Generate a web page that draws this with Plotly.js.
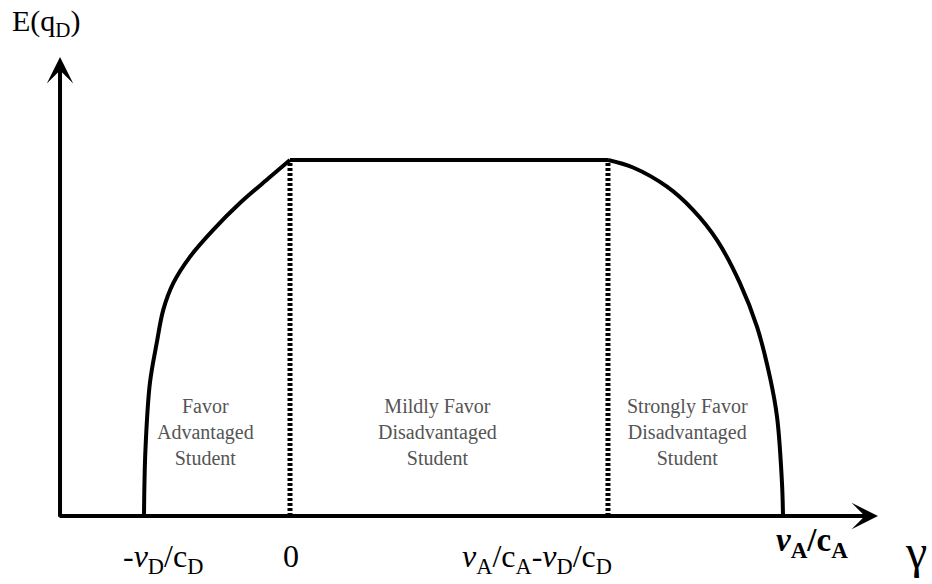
<!DOCTYPE html>
<html>
<head>
<meta charset="utf-8">
<script src="https://cdn.plot.ly/plotly-3.0.1.min.js"></script>
<style>
  html, body { margin: 0; padding: 0; background: #fff; }
  #graph { width: 932px; height: 584px; }
</style>
</head>
<body>
<div id="graph"></div>
<script>
// gamma on x (1 unit = -vD/cD distance), E(qD) on y (1 = plateau)

// rising branch, from -vD/cD up to 0
var leftX = [-1.007, -0.997, -0.966, -0.919, -0.874, -0.805, -0.690, -0.531, -0.345, -0.138, 0];
var leftY = [0, 0.185, 0.374, 0.486, 0.579, 0.654, 0.728, 0.803, 0.879, 0.952, 1.0];

// plateau between 0 and vA/cA - vD/cD
var flatX = [0, 2.193];
var flatY = [1.0, 1.0];

// falling branch, down to vA/cA
var rightX = [2.193, 2.366, 2.600, 2.779, 2.945, 3.103, 3.221, 3.310, 3.359, 3.393, 3.400];
var rightY = [1.0, 0.979, 0.925, 0.860, 0.775, 0.654, 0.531, 0.390, 0.278, 0.093, 0];

// the two dotted region boundaries
var boundX = [0, 2.193];
var boundTop = 1.0;

// tick labels under the gamma axis
var tickText = [
    '-<i>v</i><sub>D</sub>/c<sub>D</sub>',
    '0',
    '<i>v</i><sub>A</sub>/c<sub>A</sub>-<i>v</i><sub>D</sub>/c<sub>D</sub>',
    '<b><i>v</i><sub>A</sub>/c<sub>A</sub></b>'
];
var tickX = [-0.876, 0.01, 1.703, 3.60];

var regionText = [
    'Favor<br>Advantaged<br>Student',
    'Mildly Favor<br>Disadvantaged<br>Student',
    'Strongly Favor<br>Disadvantaged<br>Student'
];
var regionX = [-0.58, 1.02, 2.74];

function drawGraph() {
    var black = '#000';
    var serif = 'Liberation Serif, Times New Roman, serif';

    var curve = { width: 4, color: black, shape: 'spline', smoothing: 1 };

    var data = [
        { x: leftX, y: leftY, type: 'scatter', mode: 'lines', line: curve, hoverinfo: 'skip' },
        { x: flatX, y: flatY, type: 'scatter', mode: 'lines', line: { width: 4, color: black }, hoverinfo: 'skip' },
        { x: rightX, y: rightY, type: 'scatter', mode: 'lines', line: curve, hoverinfo: 'skip' }
    ];

    // dotted boundaries
    boundX.forEach(function (bx) {
        data.push({
            x: [bx, bx], y: [0, boundTop], type: 'scatter', mode: 'lines',
            line: { width: 5, color: black, dash: '3px,2px' }, hoverinfo: 'skip'
        });
    });

    var annotations = [];

    // axes drawn as arrows
    annotations.push({
        x: 4.055, y: 0, ax: -1.6, ay: 0, xref: 'x', yref: 'y', axref: 'x', ayref: 'y',
        text: '', showarrow: true, arrowhead: 3, arrowsize: 1.1, arrowwidth: 4, arrowcolor: black
    });
    annotations.push({
        x: -1.586, y: 1.289, ax: -1.586, ay: -0.006, xref: 'x', yref: 'y', axref: 'x', ayref: 'y',
        text: '', showarrow: true, arrowhead: 3, arrowsize: 1.1, arrowwidth: 4, arrowcolor: black
    });

    // tick labels
    tickText.forEach(function (t, i) {
        var bold = i === 3;
        annotations.push({
            x: tickX[i], y: bold ? -0.01 : -0.055, xref: 'x', yref: 'y',
            text: t, showarrow: false, yanchor: 'top',
            font: { family: serif, size: bold ? 33 : 32, color: black }
        });
    });

    // axis names
    annotations.push({
        x: 0.011, y: 0.997, xref: 'paper', yref: 'paper', xanchor: 'left', yanchor: 'top',
        text: 'E(q<sub>D</sub>)', showarrow: false,
        font: { family: serif, size: 30, color: black }
    });
    annotations.push({
        x: 0.997, y: 0.055, xref: 'paper', yref: 'paper', xanchor: 'right', yanchor: 'middle',
        text: 'γ', showarrow: false,
        font: { family: serif, size: 48, color: black }
    });

    // region labels
    regionText.forEach(function (t, i) {
        annotations.push({
            x: regionX[i], y: 0.237, xref: 'x', yref: 'y', yanchor: 'middle',
            text: t, showarrow: false, align: 'center',
            font: { family: serif, size: 20, color: '#555' }
        });
    });

    var layout = {
        width: 932,
        height: 584,
        margin: { l: 0, r: 0, t: 0, b: 0 },
        paper_bgcolor: '#fff',
        plot_bgcolor: '#fff',
        showlegend: false,
        xaxis: { range: [-2, 4.4276], visible: false, fixedrange: true },
        yaxis: { range: [-0.191, 1.4494], visible: false, fixedrange: true },
        annotations: annotations
    };

    Plotly.newPlot('graph', data, layout, { staticPlot: true });
}

drawGraph();
</script>
</body>
</html>
